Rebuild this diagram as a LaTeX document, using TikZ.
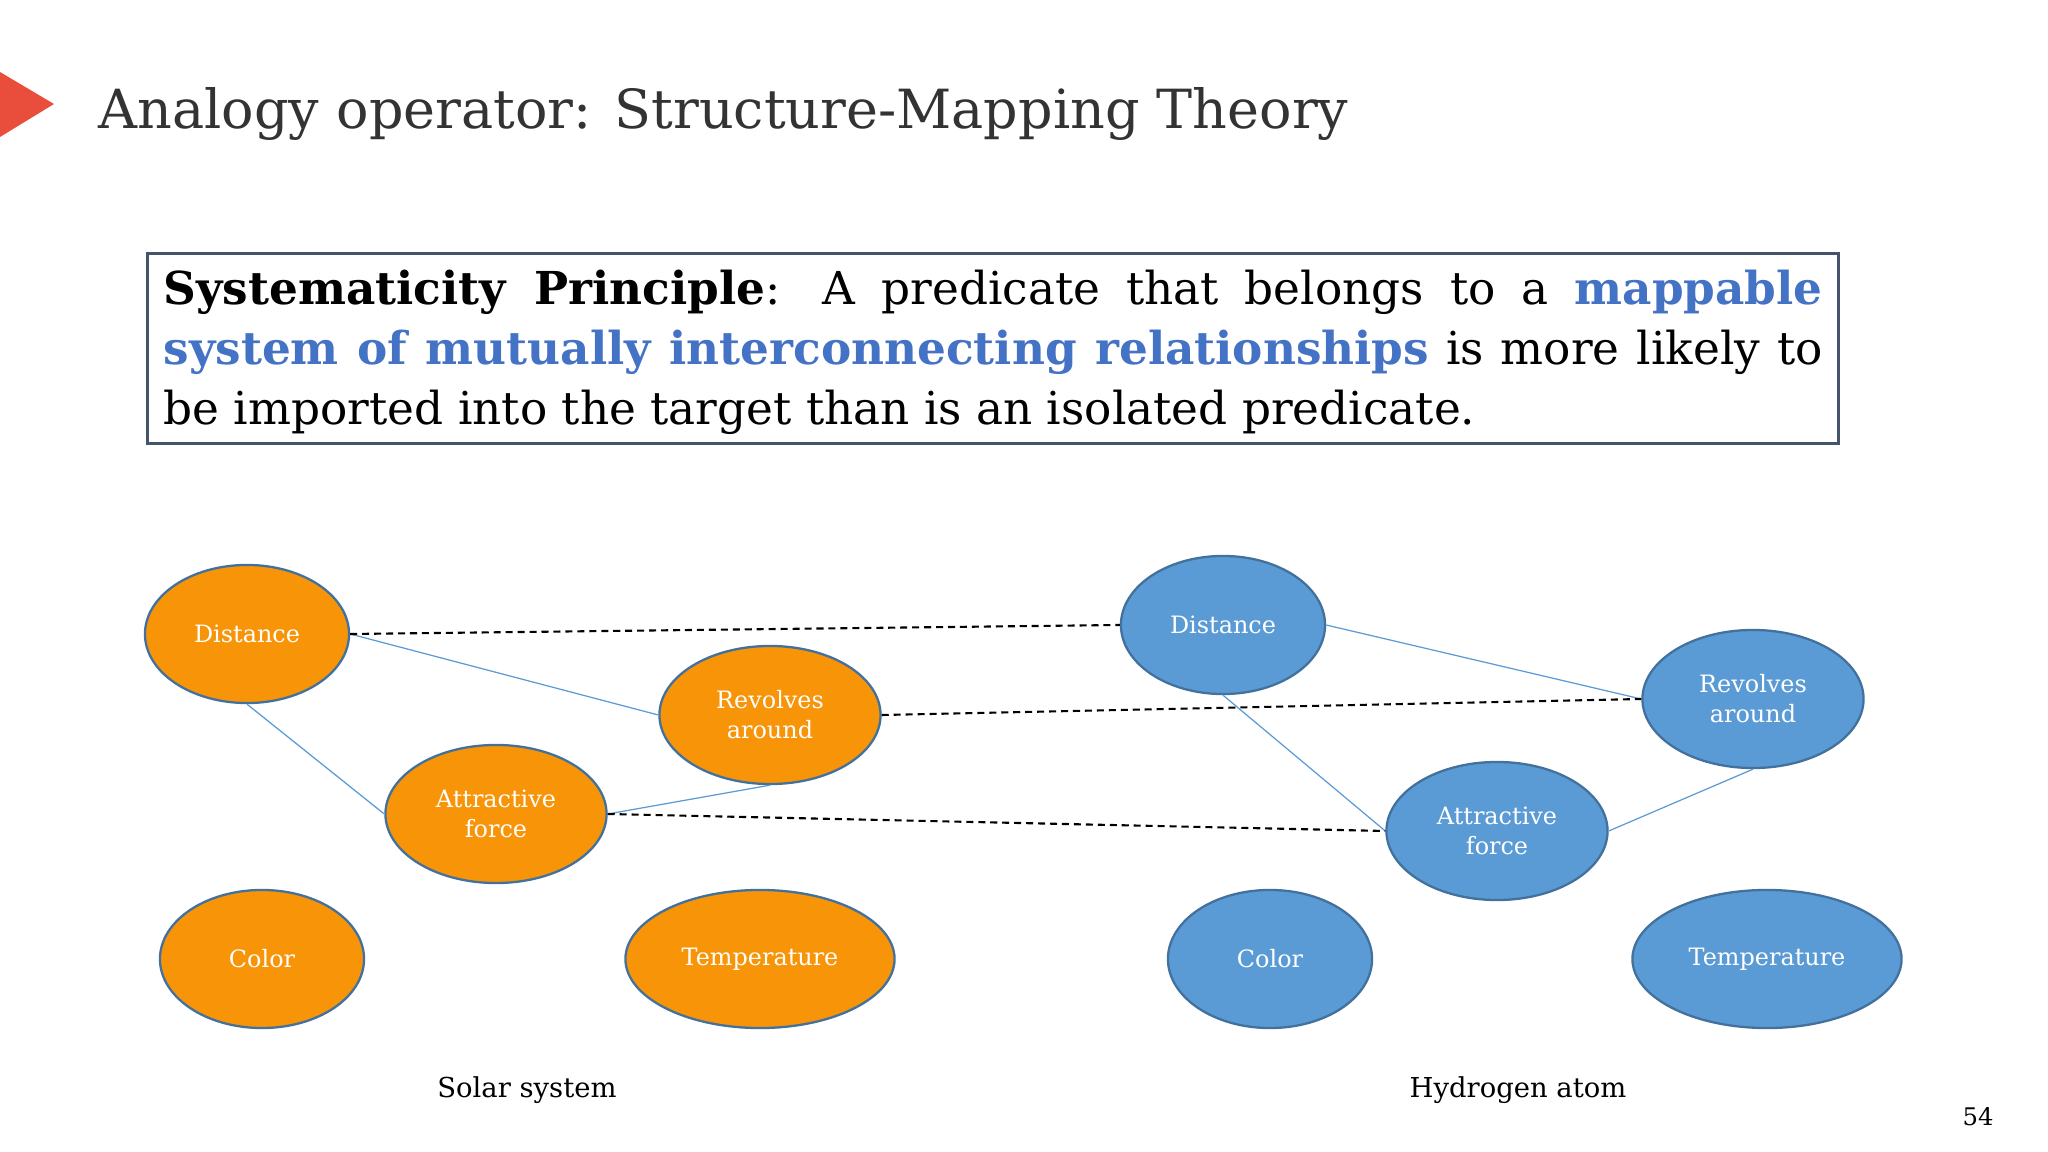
\documentclass[tikz,border=0pt]{standalone}
\usepackage{fontspec}
\setmainfont{DejaVu Serif}
\usetikzlibrary{shapes.geometric}
\definecolor{orangefill}{RGB}{247,148,8}
\definecolor{bluefill}{RGB}{91,155,213}
\definecolor{nodeedge}{RGB}{65,113,156}
\definecolor{linkblue}{RGB}{91,155,213}
\definecolor{hiblue}{RGB}{68,114,196}
\definecolor{titlegray}{RGB}{51,51,51}
\definecolor{boxedge}{RGB}{68,84,106}
\definecolor{redmark}{RGB}{233,78,60}
\begin{document}
\begin{tikzpicture}[x=0.01cm,y=-0.01cm,
  concept/.style={ellipse, draw=nodeedge, line width=0.65pt, text=white,
    font=\fontsize{6.8}{8.5}\selectfont, align=center, inner sep=0pt},
  orangenode/.style={concept, fill=orangefill},
  bluenode/.style={concept, fill=bluefill},
  smallnode/.style={minimum width=2.04cm, minimum height=1.38cm},
  midnode/.style={minimum width=2.21cm, minimum height=1.38cm},
  widenode/.style={minimum width=2.69cm, minimum height=1.38cm},
  relation/.style={draw=linkblue, line width=0.35pt},
  mapping/.style={draw=black, line width=0.6pt, dash pattern=on 2pt off 1.4pt},
  caption/.style={anchor=base, text=black, font=\fontsize{7.8}{9.5}\selectfont, inner sep=0pt},
]
\useasboundingbox (0,0) rectangle (2048,1152);
\fill[white] (0,0) rectangle (2048,1152);
\fill[redmark] (0,72) -- (54,104) -- (0,137) -- cycle;
\node[anchor=base west, inner sep=0pt, text=titlegray, font=\fontsize{15.35}{19}\selectfont] (title) at (98,129) {Analogy operator: Structure-Mapping Theory};
\node[draw=boxedge, line width=0.8pt, minimum width=16.9cm, minimum height=1.9cm, anchor=north west, inner sep=0pt] (box) at (146,252) {};
\node[anchor=north west, inner sep=0pt, text width=16.58cm, align=justify, text=black,
  font=\fontsize{12.9}{17.07}\selectfont] (principle) at (163,269)
  {\hyphenpenalty=10000\relax\exhyphenpenalty=10000\relax
   {\bfseries Systematicity Principle}: A predicate that belongs to a {\bfseries\color{hiblue}mappable}\linebreak
   {\bfseries\color{hiblue}system of mutually interconnecting relationships} is more likely to\linebreak
   be imported into the target than is an isolated predicate.};
% Solar system
\node[orangenode, smallnode] (sd) at (247,634) {Distance};
\node[orangenode, midnode] (sr) at (770,715) {Revolves\\around};
\node[orangenode, midnode] (sa) at (496,814) {Attractive\\force};
\node[orangenode, smallnode] (sc) at (262,959) {Color};
\node[orangenode, widenode] (st) at (760,959) {Temperature};
% Hydrogen atom
\node[bluenode, smallnode] (hd) at (1223,625) {Distance};
\node[bluenode, midnode] (hr) at (1753,699) {Revolves\\around};
\node[bluenode, midnode] (ha) at (1497,831) {Attractive\\force};
\node[bluenode, smallnode] (hc) at (1270,959) {Color};
\node[bluenode, widenode] (ht) at (1767,959) {Temperature};
% relations
\draw[relation] (sd.east) -- (sr.west);
\draw[relation] (sd.south) -- (sa.west);
\draw[relation] (sa.east) -- (sr.south);
\draw[relation] (hd.east) -- (hr.west);
\draw[relation] (hd.south) -- (ha.west);
\draw[relation] (ha.east) -- (hr.south);
% mappings
\draw[mapping] (sd.east) -- (hd.west);
\draw[mapping] (sr.east) -- (hr.west);
\draw[mapping] (sa.east) -- (ha.west);
% captions
\node[caption] (solar) at (527,1097) {Solar system};
\node[caption] (hydrogen) at (1518,1097) {Hydrogen atom};
\node[anchor=base, inner sep=0pt, text=black, font=\fontsize{6.9}{8}\selectfont] (page) at (1978,1125) {54};
\end{tikzpicture}
\end{document}
